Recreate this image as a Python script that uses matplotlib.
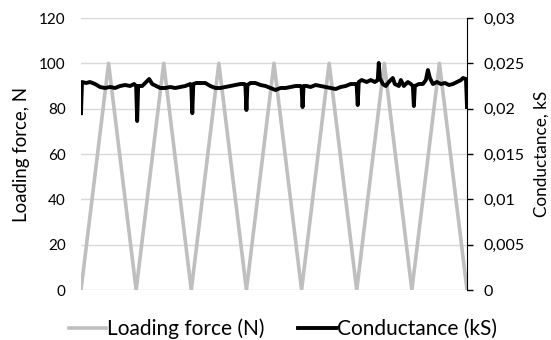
import matplotlib
matplotlib.use("Agg")
import matplotlib.pyplot as plt
from matplotlib.ticker import FuncFormatter

# loading force: triangle cycles (time in arbitrary units, 7 cycles)
force_time = [0, 27.5, 55, 82.5, 110, 137.5, 165, 192.5, 220, 247.5,
              275, 302.5, 330, 357.5, 385]
force_n = [0, 100, 0, 100, 0, 100, 0, 100, 0, 100, 0, 100, 0, 100, 0]

# conductance
cond_time = [0, 1, 5, 9, 14, 19, 24, 29, 34, 39, 44, 49, 53, 55, 56, 57,
             61, 65, 68, 71, 75, 79, 84, 89, 94, 99, 104, 109, 110, 111, 112,
             115, 119, 124, 129, 134, 139, 144, 149, 154, 159, 163, 164, 165,
             166, 169, 174, 179, 184, 189, 194, 199, 204, 209, 214, 219, 220,
             221, 222, 225, 229, 234, 239, 244, 249, 254, 259, 264, 269, 274,
             275, 276, 277, 280, 285, 289, 293, 296, 297, 298, 301, 304, 307,
             311, 313, 317, 319, 322, 326, 329, 331, 332, 333, 337, 341, 344,
             346, 348, 351, 355, 359, 363, 367, 371, 375, 379, 381, 384, 385]
cond_ks = [0.0195, 0.02294, 0.02283, 0.02294, 0.02272, 0.02239, 0.02228,
           0.02239, 0.02228, 0.02250, 0.02261, 0.02250, 0.02272, 0.02250,
           0.01864, 0.02250, 0.02250, 0.02294, 0.02327, 0.02272, 0.02250,
           0.02228, 0.02228, 0.02239, 0.02228, 0.02239, 0.02250, 0.02272,
           0.02261, 0.0195, 0.02272, 0.02283, 0.02283, 0.02283, 0.02250,
           0.02228, 0.02228, 0.02239, 0.02250, 0.02261, 0.02272, 0.02272,
           0.02250, 0.01985, 0.02261, 0.02283, 0.02283, 0.02261, 0.02250,
           0.02228, 0.02206, 0.02228, 0.02228, 0.02239, 0.02250, 0.02250,
           0.02239, 0.02018, 0.02250, 0.02250, 0.02239, 0.02261, 0.02250,
           0.02239, 0.02228, 0.02217, 0.02239, 0.02250, 0.02272, 0.02272,
           0.02250, 0.02040, 0.02294, 0.02316, 0.02294, 0.02316, 0.02294,
           0.02316, 0.02504, 0.02338, 0.02272, 0.02250, 0.02294, 0.02338,
           0.02272, 0.02250, 0.02316, 0.02250, 0.02294, 0.02272, 0.02250,
           0.02029, 0.02250, 0.02272, 0.02272, 0.02316, 0.02426, 0.02338,
           0.02272, 0.02294, 0.02272, 0.02283, 0.02261, 0.02272, 0.02294,
           0.02316, 0.02338, 0.02327, 0.02018]

plt.rcParams['font.family'] = ['Lato', 'DejaVu Sans']

fig = plt.figure(figsize=(5.51, 3.40), dpi=100)
ax = fig.add_axes([81 / 551, 1 - 290 / 340, 386 / 551, 272 / 340])
ax2 = ax.twinx()

l1, = ax.plot(force_time, force_n, color='#bfbfbf', lw=2.6,
              label='Loading force (N)')
l2, = ax2.plot(cond_time, cond_ks, color='black', lw=2.8,
               label='Conductance (kS)')

ax.set_xlim(0, 385)
ax.set_ylim(0, 120)
ax.set_yticks(range(0, 121, 20))
ax.grid(axis='y', color='#d9d9d9', lw=1)
ax.set_axisbelow(True)
ax.set_xticks([])
ax.tick_params(axis='y', length=0, pad=11, labelsize=11)
for s in ['top', 'left', 'right', 'bottom']:
    ax.spines[s].set_visible(False)
ax.set_ylabel('Loading force, N', fontsize=13.4, va='center')
ax.yaxis.set_label_coords(-0.154, 0.5)

ax2.set_ylim(0, 0.03)
ax2.set_yticks([0, 0.005, 0.01, 0.015, 0.02, 0.025, 0.03])
ax2.yaxis.set_major_formatter(FuncFormatter(
    lambda v, p: ('%g' % round(v, 3)).replace('.', ',')))
ax2.tick_params(axis='y', length=4, width=1, direction='out', pad=8,
                labelsize=11.5)
for s in ['top', 'left', 'bottom']:
    ax2.spines[s].set_visible(False)
ax2.spines['right'].set_color('black')
ax2.set_ylabel('Conductance, kS', fontsize=12.3, va='center')
ax2.yaxis.set_label_coords(1.194, 0.5)

fig.legend(handles=[l1, l2], loc='center', bbox_to_anchor=(0.513, 11 / 340),
           ncol=2, frameon=False, fontsize=15, handlelength=1.8,
           handletextpad=0.05, columnspacing=1.6)

fig.savefig('out.png', dpi=100)
